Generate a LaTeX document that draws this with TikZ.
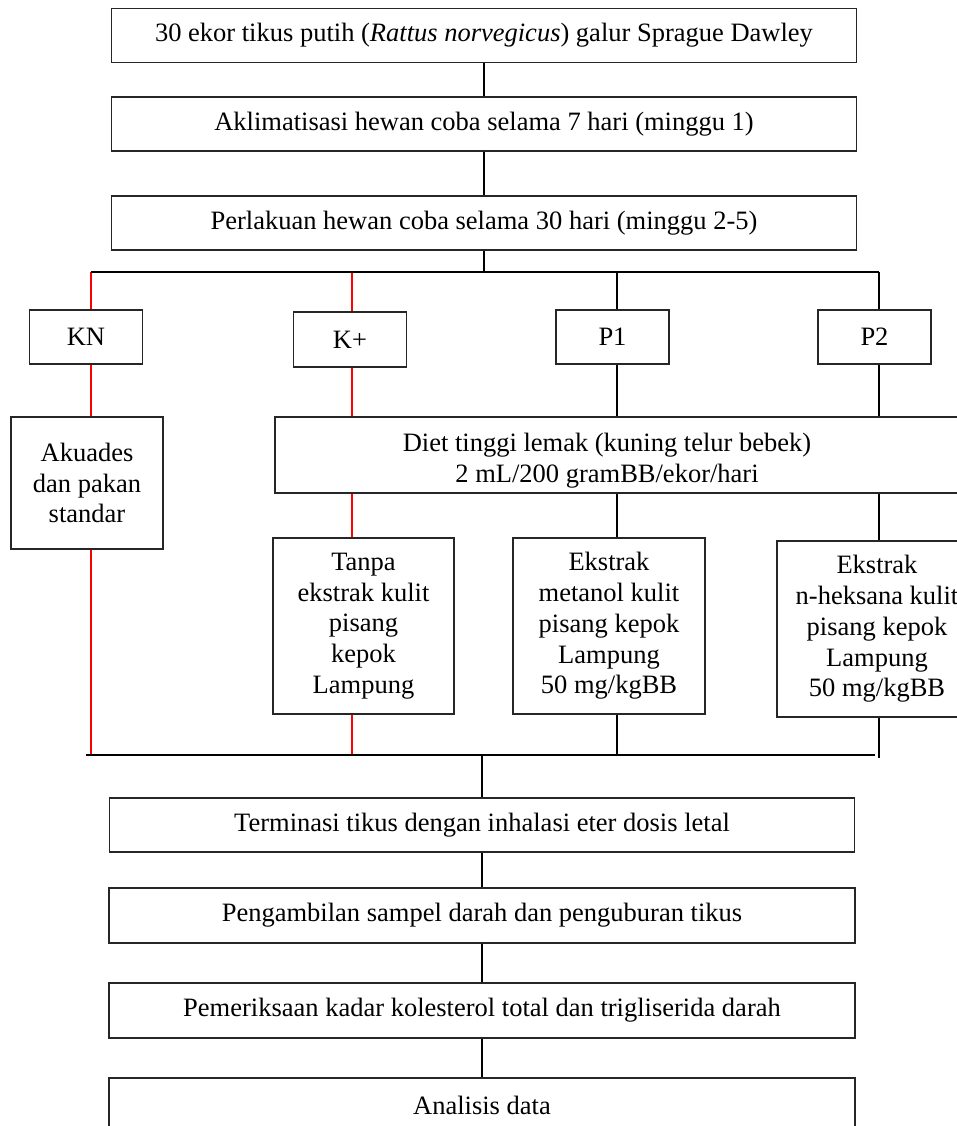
\documentclass[tikz,border=0pt]{standalone}
\usepackage{fontspec}
\setmainfont{Liberation Serif}
\usepackage{tikz}

\begin{document}
\begin{tikzpicture}[x=0.5pt, y=-0.5pt,
  box/.style={draw=black!85, line width=0.55pt, rectangle, inner sep=2pt, align=center,
    font=\fontsize{13.25}{15.4}\selectfont},
  wide/.style={box, minimum width=372.5pt, minimum height=27pt},
  grp/.style={box, minimum width=56.5pt, minimum height=27pt},
  conn/.style={line width=0.9pt},
  bar/.style={line width=1.3pt},
  redconn/.style={red, line width=0.6pt}]
\clip (0,0) rectangle (957,1126);

% alur awal
\node[wide] (1) at (484,35.5) {30 ekor tikus putih (\textit{Rattus norvegicus}) galur Sprague Dawley};
\node[wide] (2) at (484,124) {Aklimatisasi hewan coba selama 7 hari (minggu 1)};
\node[wide] (3) at (484,223) {Perlakuan hewan coba selama 30 hari (minggu 2-5)};

% titik cabang
\coordinate (tm) at (484,272);
\coordinate (t1) at (91,272);
\coordinate (t2) at (352,272);
\coordinate (t3) at (617,272);
\coordinate (t4) at (879,272);
\coordinate (b0) at (86,755);
\coordinate (b1) at (91,755);
\coordinate (b2) at (352,755);
\coordinate (b3) at (617,755);
\coordinate (b4) at (879,758);
\coordinate (bm) at (482,755);
\coordinate (be) at (875,755);

% kelompok
\node[grp] (kn) at (86,337)    {KN};
\node[grp, minimum height=27.5pt] (kp) at (350,339.5) {K+};
\node[grp] (p1) at (612.5,337) {P1};
\node[grp] (p2) at (874.5,337) {P2};

\node[box, minimum width=76pt, minimum height=66pt] (aku) at (87,483) {Akuades\\dan pakan\\standar};
\node[box, minimum width=355pt, minimum height=38pt] (diet) at (630,455) {};
\node[align=center, font=\fontsize{13.25}{15.4}\selectfont] (diettxt) at (607,461)
  {Diet tinggi lemak (kuning telur bebek)\\2 mL/200 gramBB/ekor/hari};

\node[box, minimum width=90.5pt, minimum height=88pt] (tanpa) at (363.5,626)
  {Tanpa\\ekstrak kulit\\pisang\\kepok\\Lampung};
\node[box, minimum width=96pt, minimum height=88pt] (met) at (609,626)
  {Ekstrak\\metanol kulit\\pisang kepok\\Lampung\\50 mg/kgBB};
\node[box, minimum width=100pt, minimum height=88pt] (hex) at (877,629)
  {Ekstrak\\n-heksana kulit\\pisang kepok\\Lampung\\50 mg/kgBB};

% alur akhir
\node[wide] (t)  at (482,825)  {Terminasi tikus dengan inhalasi eter dosis letal};
\node[wide, minimum width=373pt, minimum height=27.5pt] (pg) at (482,915.5)
  {Pengambilan sampel darah dan penguburan tikus};
\node[wide, minimum width=373pt, minimum height=27.5pt] (pm) at (482,1010.5)
  {Pemeriksaan kadar kolesterol total dan trigliserida darah};
\node[wide, minimum width=373pt] (an) at (482,1105) {Analisis data};

\path[conn]
(1)  edge (2)
(2)  edge (3)
(3)  edge (tm)
(bm) edge (t)
(t)  edge (pg)
(pg) edge (pm)
(pm) edge (an)
;

% garis tiap kelompok
\draw[redconn] (t1) -- (t1 |- kn.north) (t1 |- kn.south) -- (t1 |- aku.north)
  (t1 |- aku.south) -- (b1);
\draw[redconn] (t2) -- (t2 |- kp.north) (t2 |- kp.south) -- (t2 |- diet.north)
  (t2 |- diet.south) -- (t2 |- tanpa.north) (t2 |- tanpa.south) -- (b2);
\draw[conn] (t3) -- (t3 |- p1.north) (t3 |- p1.south) -- (t3 |- diet.north)
  (t3 |- diet.south) -- (t3 |- met.north) (t3 |- met.south) -- (b3);
\draw[conn] (t4) -- (t4 |- p2.north) (t4 |- p2.south) -- (t4 |- diet.north)
  (t4 |- diet.south) -- (t4 |- hex.north) (t4 |- hex.south) -- (b4);

\draw[bar] (t1) -- (t4);
\draw[bar] (b0) -- (be);
\end{tikzpicture}
\end{document}
